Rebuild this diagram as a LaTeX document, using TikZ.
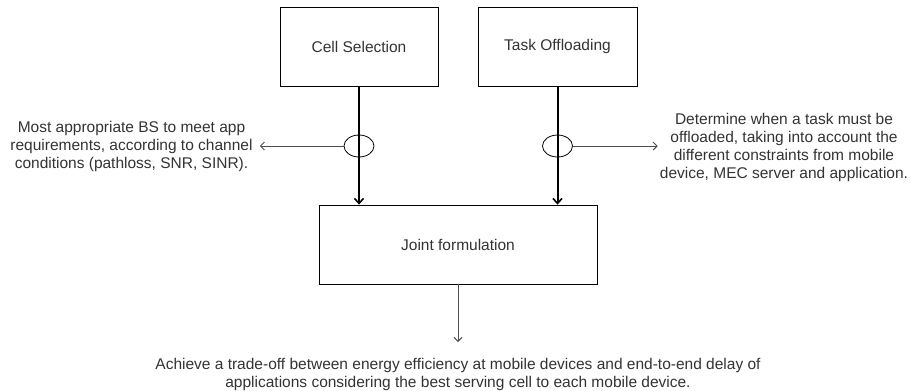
\documentclass[tikz,border=0pt]{standalone}
\usepackage{fontspec}
\setmainfont{Liberation Sans}
\usetikzlibrary{arrows.meta,shapes.geometric}
\tikzset{
  box/.style={draw=black, line width=0.8bp, minimum height=79bp, inner sep=0pt, text=black!80, font=\fontsize{15.5bp}{18bp}\selectfont},
  lbl/.style={align=center, inner sep=0pt, text=black!80, font=\fontsize{15.5bp}{18bp}\selectfont},
  ring/.style={draw=black, line width=0.8bp, ellipse, minimum width=30bp, minimum height=22bp, inner sep=0pt},
  thick arrow/.style={draw=black, line width=2bp, -{Straight Barb[length=5bp,width=9bp,line width=1.6bp]}},
  thin arrow/.style={draw=black!70, line width=1bp, -{Straight Barb[length=4bp,width=8bp]}}
}
\begin{document}
\begin{tikzpicture}[x=1bp,y=-1bp]
\useasboundingbox (0,0) rectangle (911,390);
\node[box, minimum width=158bp] (cell) at (359,46.5) {Cell Selection};
\node[box, minimum width=159bp] (task) at (557.5,46.5) {Task Offloading};
\node[box, minimum width=278bp] (joint) at (458,244.5) {Joint formulation};
\draw[thick arrow] (cell.south) -- (cell.south |- joint.north);
\draw[thick arrow] (task.south) -- (task.south |- joint.north);
\node[ring] (e1) at (359,146) {};
\node[ring] (e2) at (557.5,146) {};
\node[lbl] (lt) at (131.5,146) {Most appropriate BS to meet app\\requirements, according to channel\\conditions (pathloss, SNR, SINR).};
\node[lbl] (rt) at (784,147) {Determine when a task must be\\offloaded, taking into account the\\different constraints from mobile\\device, MEC server and application.};
\node[lbl] (bt) at (458,374) {Achieve a trade-off between energy efficiency at mobile devices and end-to-end delay of\\applications considering the best serving cell to each mobile device.};
\draw[thin arrow] (e1.west) -- ([xshift=7bp]lt.east |- e1.west);
\draw[thin arrow] (e2.east) -- ([xshift=-2bp]rt.west |- e2.east);
\draw[thin arrow] (joint.south) -- (458,342);
\end{tikzpicture}
\end{document}
